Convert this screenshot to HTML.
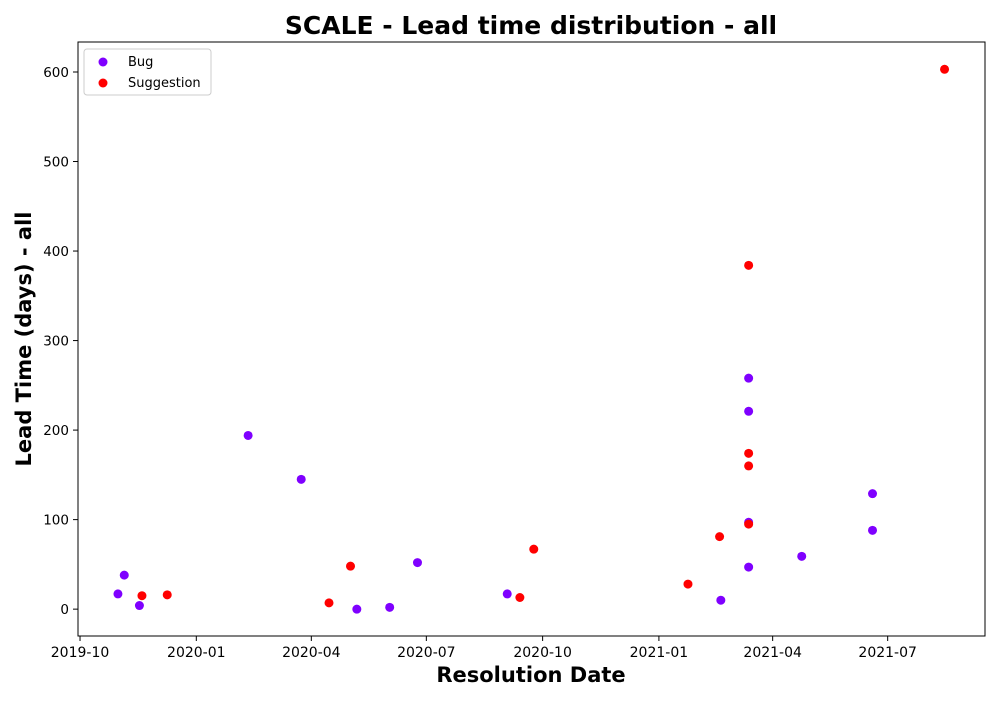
<!DOCTYPE html>
<html><head><meta charset="utf-8"><style>
body{margin:0;background:#fff;font-family:"DejaVu Sans","Liberation Sans",sans-serif;}
svg text{font-family:"DejaVu Sans","Liberation Sans",sans-serif;}
</style></head><body>
<svg id="chart" width="1000" height="700" xmlns="http://www.w3.org/2000/svg">
<text x="531" y="34" text-anchor="middle" font-size="25" font-weight="bold">SCALE - Lead time distribution - all</text>
<g id="axes"></g><g id="marks"></g>
<rect x="78" y="42" width="907" height="594" fill="none" stroke="#000" stroke-width="1"/>
<text x="531" y="682" text-anchor="middle" font-size="21" font-weight="bold">Resolution Date</text>
<text transform="translate(31,339) rotate(-90)" text-anchor="middle" font-size="21" font-weight="bold">Lead Time (days) - all</text>
<g>
<rect x="84" y="49" width="127" height="46" fill="#fff" stroke="#ccc" rx="3"/>
<circle cx="103" cy="62" r="4.5" fill="#7f00ff"/>
<text x="128" y="66" font-size="13">Bug</text>
<circle cx="103" cy="83" r="4.5" fill="#ff0000"/>
<text x="128" y="87" font-size="13">Suggestion</text>
</g>
</svg>
<script>
const bugDates=["2019-10-31","2019-11-05","2019-11-17","2020-02-11","2020-03-24","2020-05-07","2020-06-02","2020-06-24","2020-09-03","2021-02-19","2021-03-13","2021-03-13","2021-03-13","2021-03-13","2021-04-24","2021-06-19","2021-06-19"];
const bugValues=[17,38,4,194,145,0,2,52,17,10,258,221,97,47,59,129,88];
const sugDates=["2019-11-19","2019-12-09","2020-04-15","2020-05-02","2020-09-13","2020-09-24","2021-01-24","2021-02-18","2021-03-13","2021-03-13","2021-03-13","2021-03-13","2021-08-15"];
const sugValues=[15,16,7,48,13,67,28,81,384,174,160,95,603];
const yTicks=[0,100,200,300,400,500,600];
const xTicks=["2019-10","2020-01","2020-04","2020-07","2020-10","2021-01","2021-04","2021-07"];

const ns="http://www.w3.org/2000/svg";
const t0=Date.UTC(2019,9,1);
function day(s){const p=s.split("-");return (Date.UTC(+p[0],+p[1]-1,p[2]?+p[2]:1)-t0)/86400000;}
const xMin=-1.6,xMax=716,yMin=-30,yMax=633.5;
function xs(d){return 78+(day(d)-xMin)/(xMax-xMin)*907;}
function ys(v){return 636-(v-yMin)/(yMax-yMin)*594;}
function mk(tag,attrs,parent){const e=document.createElementNS(ns,tag);for(const k in attrs)e.setAttribute(k,attrs[k]);parent.appendChild(e);return e;}
const axes=document.getElementById("axes"),marks=document.getElementById("marks");
yTicks.forEach(v=>{const y=ys(v);
 const l=mk("line",{x1:73,x2:78,y1:y,y2:y,stroke:"#000"},axes);
 
 
 const t=mk("text",{x:69,y:y+5,"text-anchor":"end","font-size":"13.5"},axes);t.textContent=v;
 
 
});
xTicks.forEach(s=>{const x=xs(s);
 const l=mk("line",{x1:x,x2:x,y1:636,y2:641,stroke:"#000"},axes);
 
 
 const t=mk("text",{x:x,y:657,"text-anchor":"middle","font-size":"14"},axes);t.textContent=s;
 
 
});
bugDates.forEach((d,i)=>{const c=mk("circle",{cx:xs(d),cy:ys(bugValues[i]),r:4.5,fill:"#7f00ff"},marks);
 
 
});
sugDates.forEach((d,i)=>{const c=mk("circle",{cx:xs(d),cy:ys(sugValues[i]),r:4.5,fill:"#ff0000"},marks);
 
 
});
</script>
</body></html>
